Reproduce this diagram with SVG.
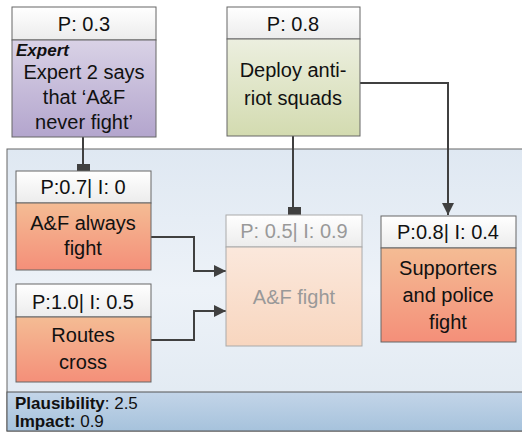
<svg xmlns="http://www.w3.org/2000/svg" width="522" height="433" viewBox="0 0 522 433">
<defs>
<linearGradient id="gBg" x1="0" y1="0" x2="0" y2="1"><stop offset="0" stop-color="#dfe8f2"/><stop offset="0.5" stop-color="#edf2f8"/><stop offset="1" stop-color="#dfe8f1"/></linearGradient>
<linearGradient id="gFoot" x1="0" y1="0" x2="0" y2="1"><stop offset="0" stop-color="#c3d5e8"/><stop offset="1" stop-color="#a6c2dc"/></linearGradient>
<linearGradient id="gHead" x1="0" y1="0" x2="0" y2="1"><stop offset="0" stop-color="#ffffff"/><stop offset="1" stop-color="#ececec"/></linearGradient>
<linearGradient id="gPurple" x1="0" y1="0" x2="0" y2="1"><stop offset="0" stop-color="#d9d2e6"/><stop offset="1" stop-color="#b3a5cd"/></linearGradient>
<linearGradient id="gGreen" x1="0" y1="0" x2="0" y2="1"><stop offset="0" stop-color="#ecefdf"/><stop offset="1" stop-color="#d3dbb0"/></linearGradient>
<linearGradient id="gOrange" x1="0" y1="0" x2="0" y2="1"><stop offset="0" stop-color="#f4bc94"/><stop offset="1" stop-color="#f48f79"/></linearGradient>
<linearGradient id="gFade" x1="0" y1="0" x2="0" y2="1"><stop offset="0" stop-color="#fbe8dc"/><stop offset="1" stop-color="#f8d6bf"/></linearGradient>
<marker id="arr" viewBox="0 0 12 12" refX="12" refY="6" markerWidth="12" markerHeight="12" markerUnits="userSpaceOnUse" orient="auto"><path d="M0,0 L12,6 L0,12 Z" fill="#404040"/></marker>
</defs>
<style>
text{font-family:"Liberation Sans",Arial,sans-serif;font-size:20px;fill:#111;text-anchor:middle}
.hd{fill:url(#gHead);stroke:#666;stroke-width:1}
.bd{stroke:#666;stroke-width:1}
.fade{fill:#999}
.con{fill:none;stroke:#404040;stroke-width:2}
.sq{fill:#404040}
.ft{text-anchor:start;font-size:17px}
</style>
<rect x="7" y="149" width="520" height="282" fill="url(#gBg)" stroke="#666" stroke-width="1"/>
<rect id="footer" x="7" y="392" width="520" height="39" fill="url(#gFoot)" stroke="#555" stroke-width="1"/>
<g id="connectors">
<path class="con" d="M83,137 V170"/>
<rect class="sq" x="77" y="164" width="13" height="13"/>
<path class="con" d="M293,136 V214"/>
<rect class="sq" x="288" y="207" width="13" height="13"/>
<path class="con" d="M360,83 H448 V215" marker-end="url(#arr)"/>
<path class="con" d="M151,237 H194 V271 H226" marker-end="url(#arr)"/>
<path class="con" d="M151,340 H194 V311 H226" marker-end="url(#arr)"/>
</g>
<g id="expert">
<rect class="hd" x="12" y="7" width="144" height="33"/>
<text x="84" y="31">P: 0.3</text>
<rect class="bd" x="12" y="40" width="144" height="97" fill="url(#gPurple)"/>
<text x="16" y="56" style="text-anchor:start;font-weight:bold;font-style:italic;font-size:17px">Expert</text>
<text x="84" y="79">Expert 2 says</text>
<text x="84" y="104">that ‘A&amp;F</text>
<text x="84" y="129">never fight’</text>
</g>
<g id="deploy">
<rect class="hd" x="227" y="7" width="133" height="32"/>
<text x="293" y="31">P: 0.8</text>
<rect class="bd" x="227" y="39" width="133" height="97" fill="url(#gGreen)"/>
<text x="293" y="77">Deploy anti-</text>
<text x="293" y="105">riot squads</text>
</g>
<g id="always">
<rect class="hd" x="16" y="171" width="135" height="32"/>
<text x="83" y="194">P:0.7| I: 0</text>
<rect class="bd" x="16" y="203" width="135" height="67" fill="url(#gOrange)"/>
<text x="83" y="230">A&amp;F always</text>
<text x="83" y="255">fight</text>
</g>
<g id="routes">
<rect class="hd" x="16" y="284" width="135" height="33"/>
<text x="83" y="309">P:1.0| I: 0.5</text>
<rect class="bd" x="16" y="317" width="135" height="65" fill="url(#gOrange)"/>
<text x="83" y="342">Routes</text>
<text x="83" y="369">cross</text>
</g>
<g id="affight">
<rect x="226" y="215" width="136" height="32" fill="url(#gHead)" stroke="#aaa"/>
<text class="fade" x="294" y="238">P: 0.5| I: 0.9</text>
<rect x="226" y="247" width="136" height="99" fill="url(#gFade)" stroke="#aaa"/>
<text class="fade" x="294" y="304">A&amp;F fight</text>
</g>
<g id="supporters">
<rect class="hd" x="381" y="216" width="135" height="32"/>
<text x="448" y="239">P:0.8| I: 0.4</text>
<rect class="bd" x="381" y="248" width="135" height="94" fill="url(#gOrange)"/>
<text x="448" y="275">Supporters</text>
<text x="448" y="302">and police</text>
<text x="448" y="329">fight</text>
</g>
<g id="scores">
<text class="ft" x="15" y="409"><tspan font-weight="bold">Plausibility</tspan>: 2.5</text>
<text class="ft" x="15" y="427"><tspan font-weight="bold">Impact:</tspan> 0.9</text>
</g>
</svg>
